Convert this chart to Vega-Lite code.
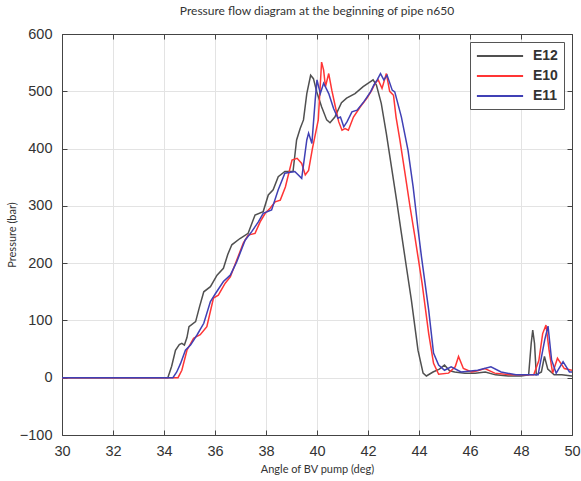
{
  "$schema": "https://vega.github.io/schema/vega-lite/v6.json",
  "width": 510,
  "height": 401,
  "autosize": "none",
  "padding": {"left": 62, "top": 34, "right": 9, "bottom": 46},
  "background": "white",
  "title": {"text": "Pressure flow diagram at the beginning of pipe n650", "font": "Lato", "fontSize": 12, "fontWeight": "normal", "color": "#333", "offset": 8},
  "config": {"view": {"stroke": "#444", "strokeWidth": 1}},
  "data": {"values": [
    {"x":30,"p":0,"s":"E12"},{"x":34.15,"p":0,"s":"E12"},{"x":34.3,"p":20,"s":"E12"},{"x":34.45,"p":48,"s":"E12"},{"x":34.6,"p":58,"s":"E12"},{"x":34.7,"p":60,"s":"E12"},{"x":34.8,"p":57,"s":"E12"},{"x":34.9,"p":70,"s":"E12"},{"x":34.98,"p":89,"s":"E12"},{"x":35.24,"p":98,"s":"E12"},{"x":35.4,"p":125,"s":"E12"},{"x":35.56,"p":150,"s":"E12"},{"x":35.82,"p":159,"s":"E12"},{"x":36.08,"p":179,"s":"E12"},{"x":36.33,"p":191,"s":"E12"},{"x":36.5,"p":215,"s":"E12"},{"x":36.66,"p":232,"s":"E12"},{"x":36.98,"p":243,"s":"E12"},{"x":37.3,"p":252,"s":"E12"},{"x":37.57,"p":284,"s":"E12"},{"x":37.89,"p":290,"s":"E12"},{"x":38.09,"p":319,"s":"E12"},{"x":38.28,"p":328,"s":"E12"},{"x":38.48,"p":351,"s":"E12"},{"x":38.74,"p":360,"s":"E12"},{"x":39.06,"p":360,"s":"E12"},{"x":39.2,"p":415,"s":"E12"},{"x":39.34,"p":435,"s":"E12"},{"x":39.47,"p":450,"s":"E12"},{"x":39.6,"p":496,"s":"E12"},{"x":39.75,"p":528,"s":"E12"},{"x":39.86,"p":522,"s":"E12"},{"x":39.99,"p":499,"s":"E12"},{"x":40.18,"p":473,"s":"E12"},{"x":40.38,"p":450,"s":"E12"},{"x":40.51,"p":445,"s":"E12"},{"x":40.7,"p":455,"s":"E12"},{"x":40.96,"p":480,"s":"E12"},{"x":41.16,"p":488,"s":"E12"},{"x":41.49,"p":496,"s":"E12"},{"x":41.81,"p":508,"s":"E12"},{"x":42.07,"p":516,"s":"E12"},{"x":42.2,"p":520,"s":"E12"},{"x":42.33,"p":511,"s":"E12"},{"x":42.52,"p":479,"s":"E12"},{"x":42.72,"p":426,"s":"E12"},{"x":42.92,"p":368,"s":"E12"},{"x":43.12,"p":310,"s":"E12"},{"x":43.3,"p":255,"s":"E12"},{"x":43.5,"p":195,"s":"E12"},{"x":43.7,"p":136,"s":"E12"},{"x":43.96,"p":48,"s":"E12"},{"x":44.16,"p":8,"s":"E12"},{"x":44.29,"p":3,"s":"E12"},{"x":44.55,"p":10,"s":"E12"},{"x":44.8,"p":15,"s":"E12"},{"x":45.0,"p":22,"s":"E12"},{"x":45.2,"p":12,"s":"E12"},{"x":45.4,"p":10,"s":"E12"},{"x":45.8,"p":8,"s":"E12"},{"x":46.2,"p":8,"s":"E12"},{"x":46.6,"p":10,"s":"E12"},{"x":47.0,"p":5,"s":"E12"},{"x":47.5,"p":3,"s":"E12"},{"x":48.0,"p":3,"s":"E12"},{"x":48.3,"p":5,"s":"E12"},{"x":48.4,"p":60,"s":"E12"},{"x":48.46,"p":83,"s":"E12"},{"x":48.53,"p":60,"s":"E12"},{"x":48.6,"p":5,"s":"E12"},{"x":48.8,"p":10,"s":"E12"},{"x":48.92,"p":37,"s":"E12"},{"x":49.05,"p":15,"s":"E12"},{"x":49.3,"p":5,"s":"E12"},{"x":49.6,"p":5,"s":"E12"},{"x":50,"p":3,"s":"E12"},

    {"x":30,"p":0,"s":"E10"},{"x":34.55,"p":0,"s":"E10"},{"x":34.7,"p":13,"s":"E10"},{"x":34.9,"p":48,"s":"E10"},{"x":35.16,"p":69,"s":"E10"},{"x":35.42,"p":75,"s":"E10"},{"x":35.68,"p":89,"s":"E10"},{"x":35.94,"p":139,"s":"E10"},{"x":36.13,"p":144,"s":"E10"},{"x":36.4,"p":165,"s":"E10"},{"x":36.6,"p":176,"s":"E10"},{"x":36.85,"p":205,"s":"E10"},{"x":37.11,"p":235,"s":"E10"},{"x":37.3,"p":249,"s":"E10"},{"x":37.57,"p":252,"s":"E10"},{"x":37.77,"p":272,"s":"E10"},{"x":37.97,"p":287,"s":"E10"},{"x":38.16,"p":296,"s":"E10"},{"x":38.36,"p":307,"s":"E10"},{"x":38.56,"p":310,"s":"E10"},{"x":38.76,"p":333,"s":"E10"},{"x":39.02,"p":380,"s":"E10"},{"x":39.22,"p":383,"s":"E10"},{"x":39.4,"p":374,"s":"E10"},{"x":39.54,"p":354,"s":"E10"},{"x":39.67,"p":362,"s":"E10"},{"x":39.82,"p":400,"s":"E10"},{"x":40.05,"p":450,"s":"E10"},{"x":40.18,"p":551,"s":"E10"},{"x":40.26,"p":537,"s":"E10"},{"x":40.33,"p":508,"s":"E10"},{"x":40.46,"p":531,"s":"E10"},{"x":40.58,"p":502,"s":"E10"},{"x":40.72,"p":473,"s":"E10"},{"x":40.85,"p":447,"s":"E10"},{"x":40.98,"p":432,"s":"E10"},{"x":41.1,"p":435,"s":"E10"},{"x":41.23,"p":432,"s":"E10"},{"x":41.43,"p":455,"s":"E10"},{"x":41.7,"p":473,"s":"E10"},{"x":41.96,"p":488,"s":"E10"},{"x":42.15,"p":502,"s":"E10"},{"x":42.28,"p":514,"s":"E10"},{"x":42.4,"p":520,"s":"E10"},{"x":42.55,"p":505,"s":"E10"},{"x":42.72,"p":531,"s":"E10"},{"x":42.85,"p":500,"s":"E10"},{"x":43.0,"p":493,"s":"E10"},{"x":43.1,"p":455,"s":"E10"},{"x":43.25,"p":415,"s":"E10"},{"x":43.45,"p":357,"s":"E10"},{"x":43.65,"p":298,"s":"E10"},{"x":43.84,"p":246,"s":"E10"},{"x":44.12,"p":165,"s":"E10"},{"x":44.38,"p":77,"s":"E10"},{"x":44.57,"p":25,"s":"E10"},{"x":44.77,"p":6,"s":"E10"},{"x":45.16,"p":8,"s":"E10"},{"x":45.42,"p":19,"s":"E10"},{"x":45.55,"p":37,"s":"E10"},{"x":45.74,"p":16,"s":"E10"},{"x":46.06,"p":10,"s":"E10"},{"x":46.3,"p":12,"s":"E10"},{"x":46.58,"p":16,"s":"E10"},{"x":46.97,"p":8,"s":"E10"},{"x":47.6,"p":5,"s":"E10"},{"x":48.5,"p":5,"s":"E10"},{"x":48.7,"p":30,"s":"E10"},{"x":48.85,"p":77,"s":"E10"},{"x":48.98,"p":92,"s":"E10"},{"x":49.1,"p":48,"s":"E10"},{"x":49.24,"p":8,"s":"E10"},{"x":49.43,"p":34,"s":"E10"},{"x":49.7,"p":16,"s":"E10"},{"x":50,"p":13,"s":"E10"},

    {"x":30,"p":0,"s":"E11"},{"x":34.35,"p":0,"s":"E11"},{"x":34.5,"p":10,"s":"E11"},{"x":34.65,"p":25,"s":"E11"},{"x":34.84,"p":48,"s":"E11"},{"x":35.04,"p":57,"s":"E11"},{"x":35.3,"p":75,"s":"E11"},{"x":35.56,"p":95,"s":"E11"},{"x":35.82,"p":133,"s":"E11"},{"x":36.02,"p":147,"s":"E11"},{"x":36.33,"p":168,"s":"E11"},{"x":36.6,"p":179,"s":"E11"},{"x":36.85,"p":202,"s":"E11"},{"x":37.18,"p":240,"s":"E11"},{"x":37.44,"p":255,"s":"E11"},{"x":37.7,"p":272,"s":"E11"},{"x":37.89,"p":287,"s":"E11"},{"x":38.22,"p":293,"s":"E11"},{"x":38.48,"p":328,"s":"E11"},{"x":38.74,"p":357,"s":"E11"},{"x":39.13,"p":360,"s":"E11"},{"x":39.4,"p":348,"s":"E11"},{"x":39.6,"p":415,"s":"E11"},{"x":39.67,"p":427,"s":"E11"},{"x":39.8,"p":409,"s":"E11"},{"x":39.93,"p":485,"s":"E11"},{"x":40.0,"p":520,"s":"E11"},{"x":40.13,"p":496,"s":"E11"},{"x":40.26,"p":514,"s":"E11"},{"x":40.46,"p":496,"s":"E11"},{"x":40.65,"p":470,"s":"E11"},{"x":40.82,"p":453,"s":"E11"},{"x":40.92,"p":455,"s":"E11"},{"x":41.05,"p":438,"s":"E11"},{"x":41.18,"p":447,"s":"E11"},{"x":41.37,"p":464,"s":"E11"},{"x":41.57,"p":467,"s":"E11"},{"x":41.84,"p":482,"s":"E11"},{"x":42.1,"p":499,"s":"E11"},{"x":42.23,"p":511,"s":"E11"},{"x":42.36,"p":520,"s":"E11"},{"x":42.49,"p":531,"s":"E11"},{"x":42.62,"p":520,"s":"E11"},{"x":42.75,"p":528,"s":"E11"},{"x":42.95,"p":502,"s":"E11"},{"x":43.05,"p":499,"s":"E11"},{"x":43.31,"p":455,"s":"E11"},{"x":43.57,"p":397,"s":"E11"},{"x":43.77,"p":333,"s":"E11"},{"x":43.96,"p":260,"s":"E11"},{"x":44.1,"p":210,"s":"E11"},{"x":44.38,"p":118,"s":"E11"},{"x":44.57,"p":43,"s":"E11"},{"x":44.77,"p":22,"s":"E11"},{"x":45.0,"p":13,"s":"E11"},{"x":45.26,"p":19,"s":"E11"},{"x":45.65,"p":10,"s":"E11"},{"x":46.3,"p":13,"s":"E11"},{"x":46.82,"p":19,"s":"E11"},{"x":47.22,"p":10,"s":"E11"},{"x":47.8,"p":5,"s":"E11"},{"x":48.67,"p":5,"s":"E11"},{"x":48.93,"p":66,"s":"E11"},{"x":49.06,"p":90,"s":"E11"},{"x":49.2,"p":31,"s":"E11"},{"x":49.38,"p":8,"s":"E11"},{"x":49.65,"p":28,"s":"E11"},{"x":49.9,"p":10,"s":"E11"},{"x":50,"p":10,"s":"E11"}
  ]},
  "layer": [
    {
      "mark": {"type": "line", "strokeWidth": 1.5, "clip": true},
      "encoding": {
        "x": {"field": "x", "type": "quantitative", "scale": {"domain": [30, 50], "nice": false, "zero": false},
          "axis": {"orient": "bottom", "values": [30,32,34,36,38,40,42,44,46,48,50], "labelFlush": false, "grid": true, "gridColor": "#e3e3e3", "domainColor": "#444", "tickColor": "#444", "tickSize": -5, "labelPadding": 14, "labelFont": "Liberation Sans", "labelFontSize": 14.5, "labelColor": "#333", "title": "Angle of BV pump (deg)", "titleFont": "Lato", "titleFontSize": 11, "titleFontWeight": "normal", "titleColor": "#333", "titlePadding": 6}},
        "y": {"field": "p", "type": "quantitative", "scale": {"domain": [-100, 600], "nice": false, "zero": false},
          "axis": {"orient": "left", "values": [-100,0,100,200,300,400,500,600], "labelFlush": false, "grid": true, "gridColor": "#e3e3e3", "domainColor": "#444", "tickColor": "#444", "tickSize": -5, "labelPadding": 15, "labelFont": "Liberation Sans", "labelFontSize": 14.5, "labelColor": "#333", "title": "Pressure (bar)", "titleFont": "Lato", "titleFontSize": 11, "titleFontWeight": "normal", "titleColor": "#333", "titlePadding": 2}},
        "color": {"field": "s", "type": "nominal",
          "scale": {"domain": ["E12", "E10", "E11"], "range": ["#505050", "#ff3535", "#4040b5"]},
          "legend": {"orient": "top-right", "title": null, "offset": 8, "strokeColor": "#555", "fillColor": "white", "padding": 6, "symbolType": "M-3.3,0H3.3", "symbolSize": 196, "symbolOffset": 16, "symbolStrokeWidth": 2, "labelOffset": 25, "labelFont": "Liberation Sans", "labelFontSize": 14, "labelFontWeight": "bold", "labelColor": "#333", "rowPadding": 5}}
      }
    },
    {
      "mark": {"type": "point", "opacity": 0},
      "encoding": {
        "x": {"field": "x", "type": "quantitative", "scale": {"domain": [30, 50], "nice": false, "zero": false},
          "axis": {"orient": "top", "values": [30,32,34,36,38,40,42,44,46,48,50], "labels": false, "grid": false, "domainColor": "#444", "tickColor": "#444", "tickSize": -5, "title": null}},
        "y": {"field": "p", "type": "quantitative", "scale": {"domain": [-100, 600], "nice": false, "zero": false},
          "axis": {"orient": "right", "values": [-100,0,100,200,300,400,500,600], "labels": false, "grid": false, "domainColor": "#444", "tickColor": "#444", "tickSize": -5, "title": null}}
      }
    }
  ],
  "resolve": {"axis": {"x": "independent", "y": "independent"}}
}
